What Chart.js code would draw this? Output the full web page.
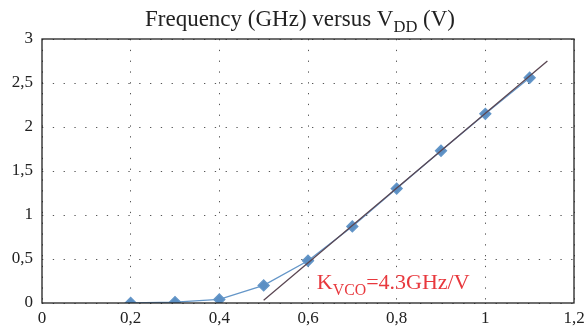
<!DOCTYPE html>
<html>
<head>
<meta charset="utf-8">
<script src="https://cdn.jsdelivr.net/npm/chart.js@4/dist/chart.umd.min.js"></script>
<style>
  html, body { margin: 0; padding: 0; background: #fff; }
  #wrap { width: 585px; height: 334px; }
</style>
</head>
<body>
<div id="wrap"><canvas id="grafico"></canvas></div>
<script>
// datos
let vdd = [0.2, 0.3, 0.4, 0.5, 0.6, 0.7, 0.8, 0.9, 1.0, 1.1];
let frecuencia = [0.0, 0.01, 0.04, 0.2, 0.48, 0.87, 1.3, 1.73, 2.15, 2.56];
let ajusteX = [0.5, 1.14];
let ajusteY = [0.03, 2.75];
let ticksX = [0, 0.2, 0.4, 0.6, 0.8, 1, 1.2];
let ticksY = [0, 0.5, 1, 1.5, 2, 2.5, 3];

let fuente = "'Liberation Serif', 'DejaVu Serif', serif";

function coma(v) {
    return String(Number(v.toFixed(2))).replace('.', ',');
}

// texto con subindice
function textoSub(ctx, partes, x, y, tam, color, align) {
    ctx.save();
    ctx.fillStyle = color;
    ctx.textBaseline = 'alphabetic';
    ctx.textAlign = 'left';
    let ancho = 0;
    partes.forEach(p => {
        ctx.font = (p.sub ? tam * 0.72 : tam) + 'px ' + fuente;
        ancho += ctx.measureText(p.t).width;
    });
    let xi = align === 'center' ? x - ancho / 2 : x;
    partes.forEach(p => {
        ctx.font = (p.sub ? tam * 0.72 : tam) + 'px ' + fuente;
        ctx.fillText(p.t, xi, p.sub ? y + tam * 0.28 : y);
        xi += ctx.measureText(p.t).width;
    });
    ctx.restore();
}

let extras = {
    id: 'extras',
    afterDraw(chart) {
        let ctx = chart.ctx;
        let a = chart.chartArea;
        ctx.save();
        ctx.strokeStyle = '#222';
        ctx.lineWidth = 1.3;
        ctx.strokeRect(a.left, a.top, a.right - a.left, a.bottom - a.top);
        ctx.restore();
        textoSub(ctx, [{t: 'Frequency (GHz) versus V'}, {t: 'DD', sub: true}, {t: ' (V)'}],
            300, 26, 23, '#222', 'center');
        let sx = chart.scales.x, sy = chart.scales.y;
        textoSub(ctx, [{t: 'K'}, {t: 'VCO', sub: true}, {t: '=4.3GHz/V'}],
            sx.getPixelForValue(0.62), sy.getPixelForValue(0.16), 22, '#e8383d', 'left');
    }
};

let grafica = document.getElementById('grafico').getContext('2d');
let parametros = {
    type: 'scatter',
    data: {
        datasets: [
            {
                label: 'ajuste',
                data: ajusteX.map((x, i) => ({x: x, y: ajusteY[i]})),
                showLine: true,
                borderColor: '#5a4652',
                borderWidth: 1.3,
                pointRadius: 0,
                order: 0
            },
            {
                label: 'frecuencia',
                data: vdd.map((x, i) => ({x: x, y: frecuencia[i]})),
                showLine: true,
                borderColor: '#6496c8',
                backgroundColor: '#5b8fc4',
                borderWidth: 1.3,
                pointStyle: 'rectRot',
                pointRadius: 5.5,
                order: 1
            }
        ]
    },
    options: {
        responsive: true,
        maintainAspectRatio: false,
        animation: false,
        layout: { padding: { top: 39, right: 11, left: 0, bottom: 0 } },
        plugins: { legend: { display: false }, title: { display: false }, tooltip: { enabled: false } },
        scales: {
            x: {
                type: 'linear',
                min: 0, max: 1.2,
                afterBuildTicks: s => { s.ticks = ticksX.map(v => ({value: v})); },
                afterFit: s => { s.height = 31; s.paddingLeft = 0; s.paddingRight = 0; },
                ticks: { callback: v => coma(v), color: '#222', font: { family: fuente, size: 17 }, padding: 5, maxRotation: 0 },
                grid: { color: '#555', lineWidth: 1, drawTicks: false },
                border: { display: false, dash: [1.3, 9.5] }
            },
            y: {
                min: 0, max: 3,
                afterBuildTicks: s => { s.ticks = ticksY.map(v => ({value: v})); },
                afterFit: s => { s.width = 42; s.paddingTop = 0; s.paddingBottom = 0; },
                ticks: { callback: v => coma(v), color: '#222', font: { family: fuente, size: 17 }, padding: 9 },
                grid: { color: '#555', lineWidth: 1, drawTicks: false },
                border: { display: false, dash: [1.3, 9.5] }
            }
        }
    },
    plugins: [extras]
};
var chart = new Chart(grafica, parametros);
</script>
</body>
</html>
